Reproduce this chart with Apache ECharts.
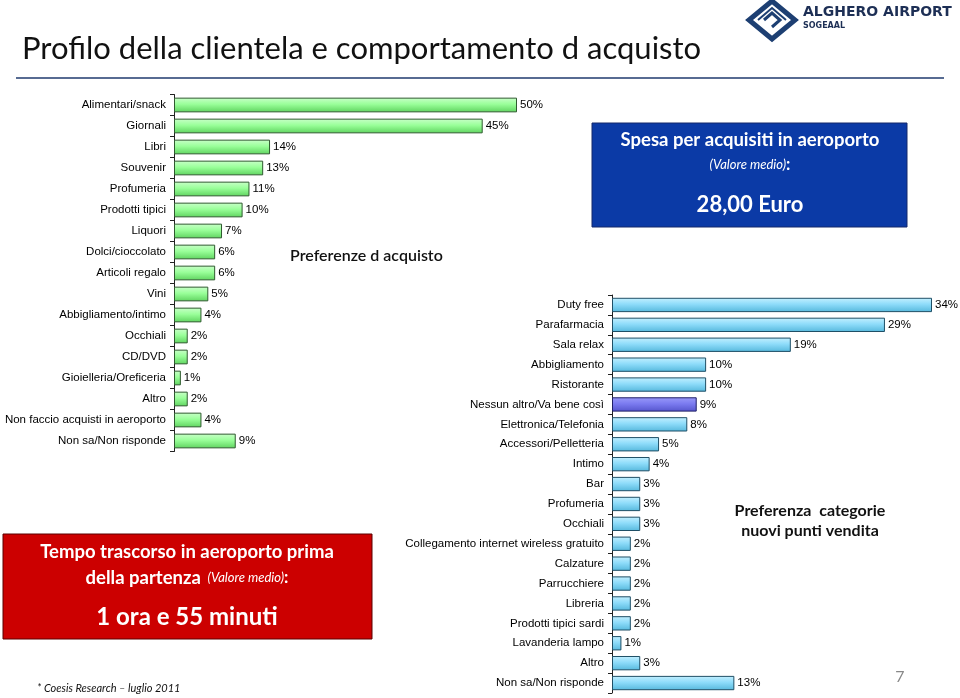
<!DOCTYPE html>
<html>
<head>
<meta charset="utf-8">
<script src="https://cdn.jsdelivr.net/npm/echarts@6/dist/echarts.min.js"></script>
<style>html,body{margin:0;padding:0;background:#fff}#c{width:960px;height:698px}</style>
</head>
<body>
<div id="c"></div>
<script>
var leftCategories = ['Alimentari/snack','Giornali','Libri','Souvenir','Profumeria','Prodotti tipici','Liquori','Dolci/cioccolato','Articoli regalo','Vini','Abbigliamento/intimo','Occhiali','CD/DVD','Gioielleria/Oreficeria','Altro','Non faccio acquisti in aeroporto','Non sa/Non risponde'];
var leftValues = [50,45,14,13,11,10,7,6,6,5,4,2,2,1,2,4,9];
var rightCategories = ['Duty free','Parafarmacia','Sala relax','Abbigliamento','Ristorante','Nessun altro/Va bene così','Elettronica/Telefonia','Accessori/Pelletteria','Intimo','Bar','Profumeria','Occhiali','Collegamento internet wireless gratuito','Calzature','Parrucchiere','Libreria','Prodotti tipici sardi','Lavanderia lampo','Altro','Non sa/Non risponde'];
var rightValues = [34,29,19,10,10,9,8,5,4,3,3,3,2,2,2,2,2,1,3,13];
var highlightCategory = 'Nessun altro/Va bene così';

var chart = echarts.init(document.getElementById('c'), null, {renderer:'canvas'});
var LF = 'Liberation Sans, Arial, sans-serif';
var TF = 'Lato, "Open Sans", sans-serif';

var greenGrad = new echarts.graphic.LinearGradient(0,0,0,1,[{offset:0,color:'#c9ffc9'},{offset:0.45,color:'#99ff99'},{offset:1,color:'#5fd35f'}]);
var blueGrad = new echarts.graphic.LinearGradient(0,0,0,1,[{offset:0,color:'#c4f0ff'},{offset:0.45,color:'#8edcfa'},{offset:1,color:'#56b8dc'}]);
var purpleGrad = new echarts.graphic.LinearGradient(0,0,0,1,[{offset:0,color:'#9a9af8'},{offset:0.45,color:'#7b7bf0'},{offset:1,color:'#5555cc'}]);

function axisY(idx, cats){
  return {type:'category', gridIndex:idx, data:cats, inverse:true,
    axisLine:{show:true, lineStyle:{color:'#222', width:1}},
    axisTick:{show:true, length:4, lineStyle:{color:'#222'}},
    axisLabel:{color:'#000', fontFamily:LF, fontSize:11.5, margin:8}};
}
function axisX(idx, max){
  return {type:'value', gridIndex:idx, min:0, max:max, show:false, splitLine:{show:false}};
}

var option = {
  backgroundColor:'#fff',
  animation:false,
  grid:[
    {left:174, top:94.5, width:343, height:357, containLabel:false},
    {left:612, top:295, width:320, height:398, containLabel:false}
  ],
  xAxis:[axisX(0,50), axisX(1,34)],
  yAxis:[axisY(0,leftCategories), axisY(1,rightCategories)],
  series:[
    {type:'bar', xAxisIndex:0, yAxisIndex:0, data:leftValues, barWidth:'70%',
      itemStyle:{color:greenGrad, borderColor:'#2f5a2f', borderWidth:1},
      label:{show:true, position:'right', distance:3, formatter:'{c}%', color:'#000', fontFamily:LF, fontSize:11.5}},
    {type:'bar', xAxisIndex:1, yAxisIndex:1, barWidth:'72%',
      data:rightValues.map(function(v,i){
        return rightCategories[i]===highlightCategory ? {value:v, itemStyle:{color:purpleGrad, borderColor:'#1e1e66'}} : v;
      }),
      itemStyle:{color:blueGrad, borderColor:'#1f4f66', borderWidth:1},
      label:{show:true, position:'right', distance:3, formatter:'{c}%', color:'#000', fontFamily:LF, fontSize:11.5}}
  ],
  graphic:[
    {type:'text', left:22, top:33, style:{text:'Profilo della clientela e comportamento d acquisto', font:'31px '+TF, fill:'#111'}},
    {type:'line', shape:{x1:16,y1:78,x2:944,y2:78}, style:{stroke:'#1f3a6e', lineWidth:1.5}},
    {type:'text', left:290, top:248, style:{text:'Preferenze d acquisto', font:'600 16px '+TF, fill:'#111'}},
    // blue box
    {type:'rect', shape:{x:592,y:123,width:315,height:104}, style:{fill:'#0b3aa6', stroke:'#14286a', lineWidth:1}},
    {type:'text', x:750, y:140, style:{text:'Spesa per acquisiti in aeroporto', font:'bold 18.5px '+TF, fill:'#fff', align:'center', verticalAlign:'middle'}},
    {type:'text', x:750, y:165, style:{text:'{i|(Valore medio)}{b|:}', align:'center', verticalAlign:'middle', fill:'#fff',
      rich:{i:{font:'italic 13px '+TF, fill:'#fff'}, b:{font:'bold 17px '+TF, fill:'#fff'}}}},
    {type:'text', x:750, y:205, style:{text:'28,00 Euro', font:'bold 22px '+TF, fill:'#fff', align:'center', verticalAlign:'middle'}},
    // red box
    {type:'rect', shape:{x:3,y:534,width:369,height:105}, style:{fill:'#cc0000', stroke:'#5a0000', lineWidth:1}},
    {type:'text', x:187, y:552, style:{text:'Tempo trascorso in aeroporto prima', font:'bold 18.5px '+TF, fill:'#fff', align:'center', verticalAlign:'middle'}},
    {type:'text', x:187, y:578, style:{text:'{a|della partenza}  {i|(Valore medio)}{b|:}', align:'center', verticalAlign:'middle', fill:'#fff',
      rich:{a:{font:'bold 18.5px '+TF, fill:'#fff'}, i:{font:'italic 13px '+TF, fill:'#fff'}, b:{font:'bold 17px '+TF, fill:'#fff'}}}},
    {type:'text', x:187, y:617, style:{text:'1 ora e 55 minuti', font:'bold 24px '+TF, fill:'#fff', align:'center', verticalAlign:'middle'}},
    {type:'text', left:37, top:683, style:{text:'* Coesis Research – luglio 2011', font:'italic 11px '+TF, fill:'#111'}},
    {type:'text', x:810, y:511, style:{text:'Preferenza  categorie', font:'bold 16px '+TF, fill:'#111', align:'center', verticalAlign:'middle'}},
    {type:'text', x:810, y:531, style:{text:'nuovi punti vendita', font:'bold 16px '+TF, fill:'#111', align:'center', verticalAlign:'middle'}},
    {type:'text', x:900, y:677, style:{text:'7', font:'16px '+TF, fill:'#888', align:'center', verticalAlign:'middle'}},
    // logo
    {type:'polygon', shape:{points:[[772,1],[795,20],[772,39],[749,20]]}, style:{fill:'none', stroke:'#1d3f72', lineWidth:5}},
    {type:'polyline', shape:{points:[[764,20],[772,13],[780,20],[772,27]]}, style:{fill:'none', stroke:'#1d3f72', lineWidth:3}},
    {type:'polyline', shape:{points:[[758,20],[772,8],[786,20]]}, style:{fill:'none', stroke:'#1d3f72', lineWidth:2}},
    {type:'text', left:803, top:5, style:{text:'ALGHERO AIRPORT', font:'bold 14px "DejaVu Sans", sans-serif', fill:'#1d2f55'}},
    {type:'text', left:803, top:22, style:{text:'SOGEAAL', font:'bold 8px "DejaVu Sans", sans-serif', fill:'#1d2f55'}}
  ]
};
chart.setOption(option);
</script>
</body>
</html>
